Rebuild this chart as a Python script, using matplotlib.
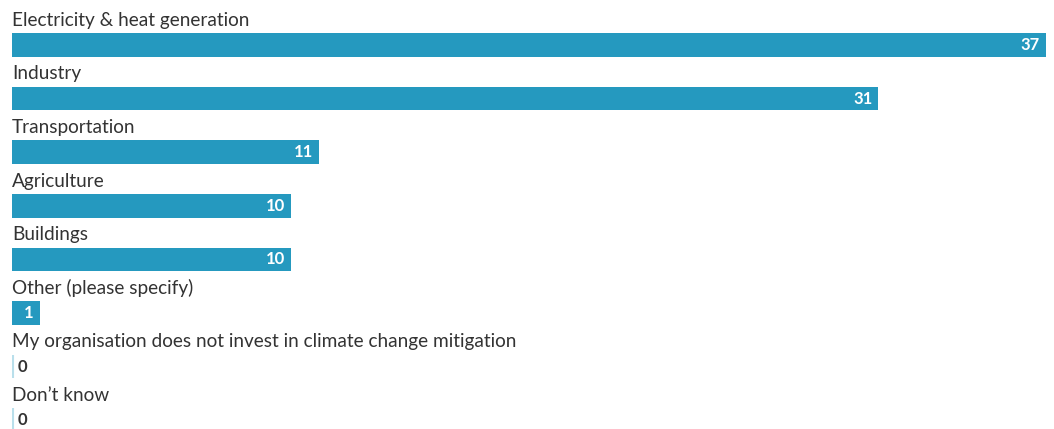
import matplotlib.pyplot as plt

categories = [
    "Electricity & heat generation",
    "Industry",
    "Transportation",
    "Agriculture",
    "Buildings",
    "Other (please specify)",
    "My organisation does not invest in climate change mitigation",
    "Don\u2019t know",
]
values = [37, 31, 11, 10, 10, 1, 0, 0]

bar_color = "#2599bf"
zero_color = "#b9dfeb"
text_color = "#333333"

plt.rcParams["font.family"] = ["Lato", "DejaVu Sans"]

W, H = 1054, 429
fig = plt.figure(figsize=(W / 100, H / 100), dpi=100)
left_px = 12
ax = fig.add_axes([left_px / W, 0, 1034 / W, 1])

# one row = 53.6 px, first bar centred 45 px from the top
row_px = 53.6
first_px = 45
ax.set_ylim((H - first_px) / row_px, -first_px / row_px)
ax.set_xlim(0, max(values))
ax.axis("off")

px_x = max(values) / 1034  # data units per pixel, horizontally
px_y = 1 / row_px          # data units per pixel, vertically

ypos = list(range(len(values)))
ax.barh(ypos, values, height=23.5 * px_y, color=bar_color, align="center")

for y, cat, v in zip(ypos, categories, values):
    ax.text(0, y - 19.3 * px_y, cat, ha="left", va="baseline",
            fontsize=13.7, color=text_color)
    if v > 0:
        ax.text(v - 6 * px_x, y, str(v), ha="right", va="center",
                fontsize=12, fontweight="bold", color="white")
    else:
        ax.vlines(0.8 * px_x, y - 11.75 * px_y, y + 11.75 * px_y,
                  color=zero_color, linewidth=1.5)
        ax.text(6 * px_x, y, str(v), ha="left", va="center",
                fontsize=12, fontweight="bold", color=text_color)

fig.savefig("out.png", dpi=100)
